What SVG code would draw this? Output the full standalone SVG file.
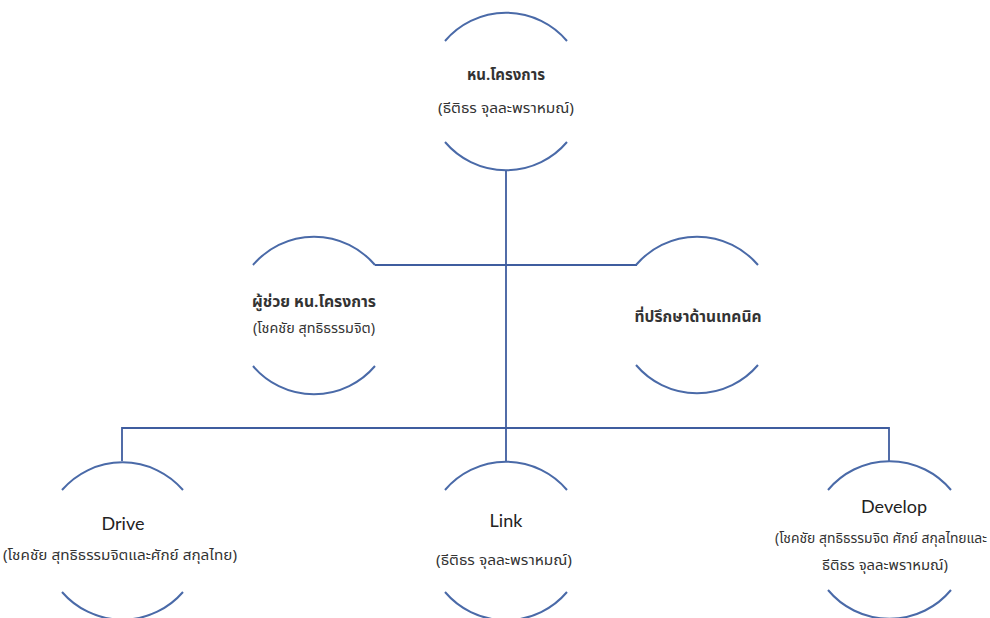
<svg xmlns="http://www.w3.org/2000/svg" width="990" height="618" viewBox="0 0 990 618">
  <style>
    .arc { fill: none; stroke: #4a6aa8; stroke-width: 2; }
    .link { fill: none; stroke: #3f5d9f; stroke-width: 1.8; }
    .th { font-family: "Noto Sans Thai", "Noto Sans", Tahoma, sans-serif; fill: #333333; text-anchor: middle; }
    .thb { font-weight: bold; font-size: 15px; }
    .thn { font-size: 14px; }
    .en { font-family: Lato, "Open Sans", "Liberation Sans", sans-serif; fill: #222222; font-size: 18px; text-anchor: middle; }
  </style>
  <rect width="990" height="618" fill="#ffffff"/>

  <!-- connectors -->
  <g id="connectors">
    <path class="link" d="M506,171 V428"/>
    <path class="link" d="M375,265 H637"/>
    <path class="link" d="M122,461 V428 H889 V461"/>
    <path class="link" d="M506,428 V461"/>
  </g>

  <!-- project head -->
  <g id="node-head">
    <path class="arc" d="M445,41 A80,80 0 0 1 567,41"/>
    <path class="arc" d="M445,142 A80,80 0 0 0 567,142"/>
    <text class="th thb" x="506" y="80">หน.โครงการ</text>
    <text class="th thn" x="506" y="113" textLength="136" lengthAdjust="spacingAndGlyphs">(ธีติธร  จุลละพราหมณ์)</text>
  </g>

  <!-- assistant -->
  <g id="node-assistant">
    <path class="arc" d="M253,265 A80,80 0 0 1 375,265"/>
    <path class="arc" d="M253,366 A80,80 0 0 0 375,366"/>
    <text class="th thb" x="314" y="307" textLength="124" lengthAdjust="spacingAndGlyphs">ผู้ช่วย หน.โครงการ</text>
    <text class="th thn" x="314" y="333" textLength="122" lengthAdjust="spacingAndGlyphs">(โชคชัย สุทธิธรรมจิต)</text>
  </g>

  <!-- technical advisor -->
  <g id="node-advisor">
    <path class="arc" d="M636,265 A80,80 0 0 1 758,265"/>
    <path class="arc" d="M636,365 A80,80 0 0 0 758,365"/>
    <text class="th thb" x="698" y="322" textLength="127" lengthAdjust="spacingAndGlyphs">ที่ปรึกษาด้านเทคนิค</text>
  </g>

  <!-- Drive -->
  <g id="node-drive">
    <path class="arc" d="M62,490 A80,80 0 0 1 183,490"/>
    <path class="arc" d="M62,592 A80,80 0 0 0 183,592"/>
    <text class="en" x="123" y="530">Drive</text>
    <text class="th thn" x="120" y="560" textLength="234" lengthAdjust="spacingAndGlyphs">(โชคชัย สุทธิธรรมจิตและศักย์ สกุลไทย)</text>
  </g>

  <!-- Link -->
  <g id="node-link">
    <path class="arc" d="M445,490 A80,80 0 0 1 567,490"/>
    <path class="arc" d="M445,592 A80,80 0 0 0 567,592"/>
    <text class="en" x="506" y="527">Link</text>
    <text class="th thn" x="504" y="565" textLength="136" lengthAdjust="spacingAndGlyphs">(ธีติธร  จุลละพราหมณ์)</text>
  </g>

  <!-- Develop -->
  <g id="node-develop">
    <path class="arc" d="M828,490 A80,80 0 0 1 951,490"/>
    <path class="arc" d="M828,590 A80,80 0 0 0 951,590"/>
    <text class="en" x="894" y="513">Develop</text>
    <text class="th thn" x="881" y="543" textLength="212" lengthAdjust="spacingAndGlyphs">(โชคชัย สุทธิธรรมจิต ศักย์ สกุลไทยและ</text>
    <text class="th thn" x="885" y="570" textLength="126" lengthAdjust="spacingAndGlyphs">ธีติธร  จุลละพราหมณ์)</text>
  </g>
</svg>
